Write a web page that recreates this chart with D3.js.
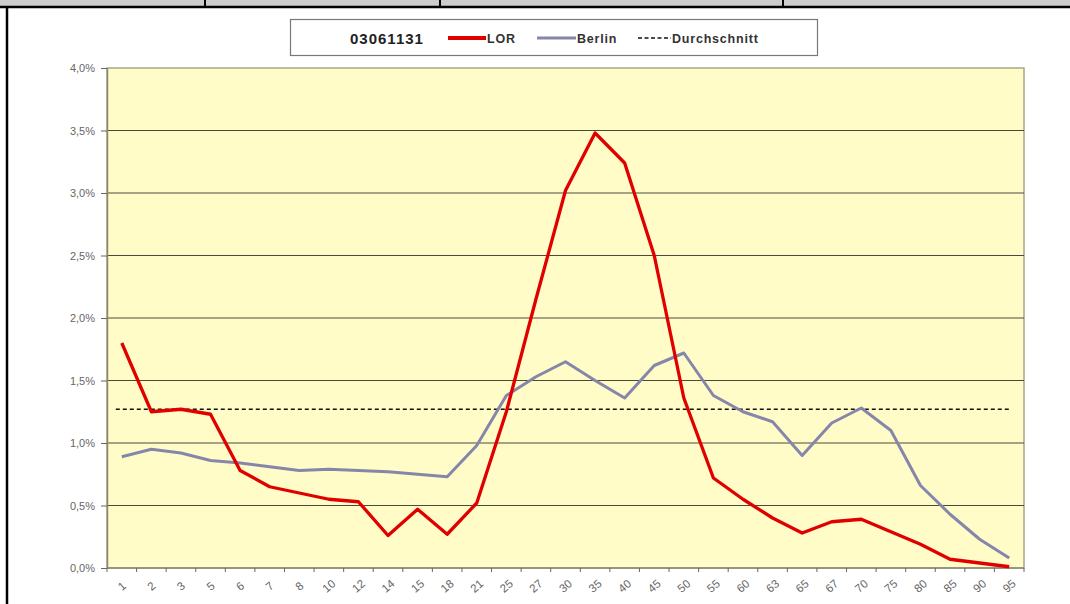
<!DOCTYPE html>
<html>
<head>
<meta charset="utf-8">
<script src="https://cdn.jsdelivr.net/npm/d3@7"></script>
<style>
  body { margin: 0; background: #fff; }
  svg { display: block; }
</style>
</head>
<body>
<div id="chart"></div>
<script>
// age groups on the x axis
const ages = ['1','2','3','5','6','7','8','10','12','14','15','18','21','25','27','30','35','40','45','50','55','60','63','65','67','70','75','80','85','90','95'];

// share of population per age group, in percent
const lorValues = [1.80,1.25,1.27,1.23,0.78,0.65,0.60,0.55,0.53,0.26,0.47,0.27,0.52,1.25,2.15,3.02,3.48,3.24,2.50,1.36,0.72,0.55,0.40,0.28,0.37,0.39,0.29,0.19,0.07,0.04,0.01];
const berlinValues = [0.89,0.95,0.92,0.86,0.84,0.81,0.78,0.79,0.78,0.77,0.75,0.73,0.98,1.38,1.53,1.65,1.50,1.36,1.62,1.72,1.38,1.25,1.17,0.90,1.16,1.28,1.10,0.66,0.43,0.23,0.08];
const average = 1.27;

const yTicks = [0, 0.5, 1.0, 1.5, 2.0, 2.5, 3.0, 3.5, 4.0];
const legendTitle = '03061131';

const width = 1070, height = 604;
const margin = { top: 68, right: 46, bottom: 36, left: 107 };

const svg = d3.select('#chart').append('svg')
  .attr('width', width)
  .attr('height', height);

// page frame bits (table remnants at the top)
svg.append('rect').attr('x', 0).attr('y', 0).attr('width', width).attr('height', 6).attr('fill', '#cccccc');
svg.append('line').attr('x1', 0).attr('x2', width).attr('y1', 7).attr('y2', 7).attr('stroke', '#000').attr('stroke-width', 2.5);
[205, 440, 783].forEach(x => {
  svg.append('line').attr('x1', x).attr('x2', x).attr('y1', 0).attr('y2', 7).attr('stroke', '#000').attr('stroke-width', 2);
});
svg.append('line').attr('x1', 7).attr('x2', 7).attr('y1', 6).attr('y2', height).attr('stroke', '#000').attr('stroke-width', 2.5);

const x = d3.scaleBand()
  .domain(ages)
  .range([margin.left, width - margin.right]);

const y = d3.scaleLinear()
  .domain([0, 4])
  .range([height - margin.bottom, margin.top]);

// plot background
svg.append('rect')
  .attr('x', margin.left)
  .attr('y', margin.top)
  .attr('width', width - margin.left - margin.right)
  .attr('height', height - margin.top - margin.bottom)
  .attr('fill', '#fffcc8')
  .attr('stroke', '#a8a68c')
  .attr('stroke-width', 1.5);

// gridlines
svg.append('g')
  .selectAll('line')
  .data(yTicks.filter(d => d > 0 && d < 4))
  .enter()
  .append('line')
  .attr('x1', margin.left)
  .attr('x2', width - margin.right)
  .attr('y1', d => y(d))
  .attr('y2', d => y(d))
  .attr('stroke', '#4a4a3c')
  .attr('stroke-width', 1);

// y axis
const yAxis = svg.append('g')
  .attr('transform', `translate(${margin.left},0)`)
  .call(d3.axisLeft(y).tickValues(yTicks).tickSize(6).tickSizeOuter(0)
    .tickFormat(d => d.toFixed(1).replace('.', ',') + '%'));
yAxis.select('.domain').attr('stroke', '#8a8870').attr('stroke-width', 1.5);
yAxis.selectAll('.tick line').attr('stroke', '#666');
yAxis.selectAll('.tick text')
  .attr('fill', '#666')
  .attr('font-family', 'Liberation Sans, Arial, sans-serif')
  .attr('font-size', 11)
  .attr('x', -12);

// x axis
const xAxisTicks = d3.scaleLinear()
  .domain([0, ages.length])
  .range([margin.left, width - margin.right]);
const xAxis = svg.append('g')
  .attr('transform', `translate(0,${height - margin.bottom})`);
xAxis.append('line')
  .attr('x1', margin.left).attr('x2', width - margin.right)
  .attr('stroke', '#8a8870').attr('stroke-width', 1.5);
xAxis.selectAll('.tk')
  .data(d3.range(ages.length + 1))
  .enter()
  .append('line')
  .attr('class', 'tk')
  .attr('x1', d => xAxisTicks(d))
  .attr('x2', d => xAxisTicks(d))
  .attr('y1', 0).attr('y2', 4)
  .attr('stroke', '#666');
xAxis.selectAll('text')
  .data(ages)
  .enter()
  .append('text')
  .attr('transform', d => `translate(${x(d) + x.bandwidth() / 2},${18}) rotate(-40)`)
  .attr('text-anchor', 'middle')
  .attr('dy', '0.35em')
  .attr('fill', '#666')
  .attr('font-family', 'Liberation Sans, Arial, sans-serif')
  .attr('font-size', 11.5)
  .text(d => d);

const cx = d => x(d) + x.bandwidth() / 2;

// average line
svg.append('line')
  .attr('x1', cx(ages[0]) - 6)
  .attr('x2', cx(ages[ages.length - 1]) + 2)
  .attr('y1', y(average))
  .attr('y2', y(average))
  .attr('stroke', '#111')
  .attr('stroke-width', 1.6)
  .attr('stroke-dasharray', '4,3');

const line = d3.line()
  .x((d, i) => cx(ages[i]))
  .y(d => y(d));

svg.append('path')
  .datum(berlinValues)
  .attr('fill', 'none')
  .attr('stroke', '#8686aa')
  .attr('stroke-width', 3)
  .attr('stroke-linejoin', 'round')
  .attr('d', line);

svg.append('path')
  .datum(lorValues)
  .attr('fill', 'none')
  .attr('stroke', '#e00000')
  .attr('stroke-width', 3.3)
  .attr('stroke-linejoin', 'round')
  .attr('d', line);

// legend
const legend = svg.append('g');
legend.append('rect')
  .attr('x', 290.5).attr('y', 19.5)
  .attr('width', 527).attr('height', 36)
  .attr('fill', '#fff')
  .attr('stroke', '#777')
  .attr('stroke-width', 1.2);

const legendFont = 'Liberation Sans, Arial, sans-serif';
legend.append('text')
  .attr('x', 350).attr('y', 44)
  .attr('font-family', legendFont)
  .attr('font-weight', 'bold')
  .attr('font-size', 15)
  .attr('letter-spacing', 1)
  .attr('fill', '#222')
  .text(legendTitle);

const legendItems = [
  { label: 'LOR', color: '#e00000', width: 4, dash: null, x0: 448, x1: 486 },
  { label: 'Berlin', color: '#8686aa', width: 3, dash: null, x0: 537, x1: 576 },
  { label: 'Durchschnitt', color: '#111', width: 1.6, dash: '4,2.5', x0: 638, x1: 671 }
];
legendItems.forEach(it => {
  legend.append('line')
    .attr('x1', it.x0).attr('x2', it.x1)
    .attr('y1', 38).attr('y2', 38)
    .attr('stroke', it.color)
    .attr('stroke-width', it.width)
    .attr('stroke-dasharray', it.dash);
  legend.append('text')
    .attr('x', it.x1 + 1).attr('y', 43)
    .attr('font-family', legendFont)
    .attr('font-weight', 'bold')
    .attr('font-size', 12.5)
    .attr('letter-spacing', 0.8)
    .attr('fill', '#333')
    .text(it.label);
});
</script>
</body>
</html>
